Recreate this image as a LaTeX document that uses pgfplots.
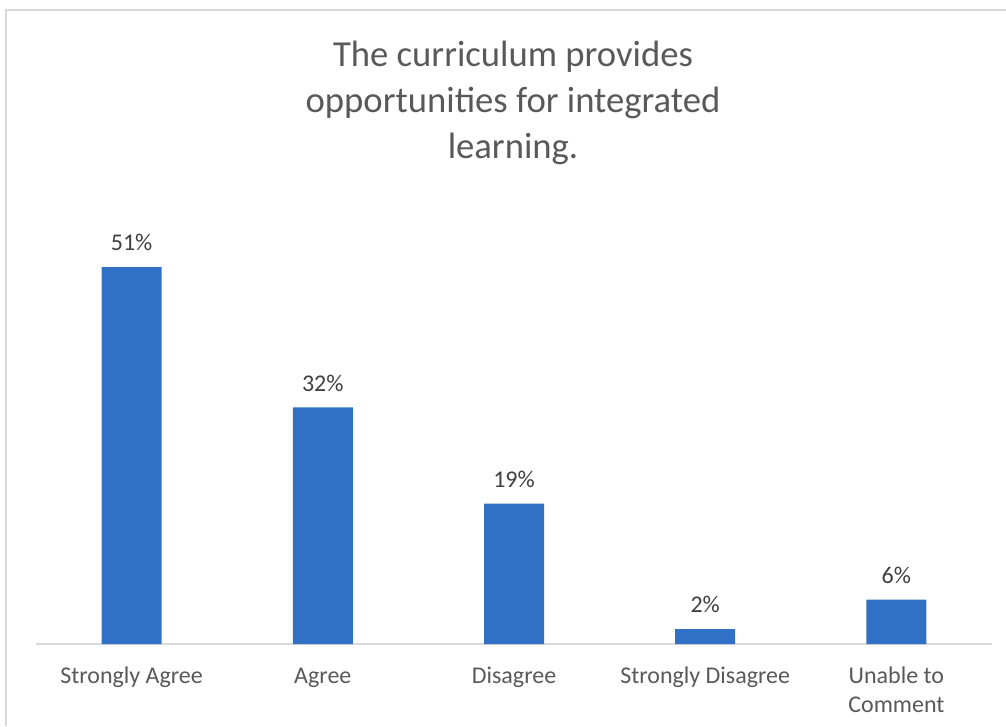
\documentclass[border=0pt]{standalone}
\usepackage{fontspec}
\setmainfont{Carlito}
\usepackage{pgfplots}
\pgfplotsset{compat=1.18}
\definecolor{barblue}{RGB}{48,113,198}
\definecolor{txt}{RGB}{89,89,89}
\definecolor{lbl}{RGB}{64,64,64}
\definecolor{framegray}{RGB}{217,217,217}

\begin{document}
\begin{tikzpicture}[x=0.75pt,y=0.75pt]
% canvas in px (1px = 0.75pt)
\path[use as bounding box] (0,0) rectangle (1006,726);
\draw[framegray, line width=1.2pt] (6,0) -- (6,716) -- (1006,716);
\node[txt, align=center, font=\fontsize{27.5}{34.3}\selectfont] at (513,623)
  {The curriculum provides\\opportunities for integrated\\learning.};
\begin{axis}[
    at={(27pt,61.5pt)}, anchor=south west,
    scale only axis,
    width=717pt, height=332.6pt,
    xmin=-0.5, xmax=4.5,
    ymin=0, ymax=60,
    axis x line*=bottom,
    axis y line=none,
    x axis line style={framegray, line width=1.1pt, -},
    xtick=data,
    xticklabels={\strut Strongly Agree, \strut Agree, \strut Disagree, \strut Strongly Disagree, {\strut Unable to\\Comment}},
    major tick length=0pt,
    xticklabel style={font=\fontsize{18}{21.5}\selectfont, text=txt, align=center, yshift=-11pt},
    ybar, bar width=45pt,
    /pgf/number format/assume math mode=true,
    nodes near coords={\pgfmathprintnumber{\pgfplotspointmeta}\%},
    every node near coord/.append style={font=\fontsize{18}{21.5}\selectfont, text=lbl, yshift=8.5pt},
    clip=false,
]
\addplot[fill=barblue, draw=none] coordinates {
  (0,51) (1,32) (2,19) (3,2) (4,6)
};
\end{axis}
\end{tikzpicture}
\end{document}
